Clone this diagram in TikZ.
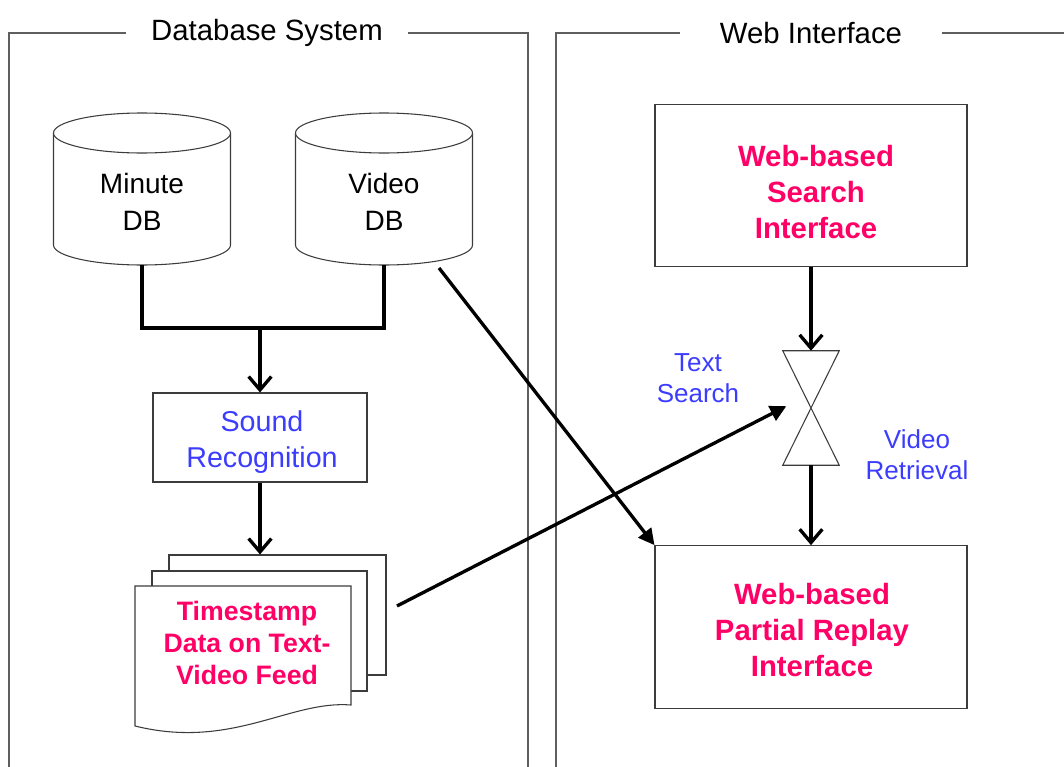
\documentclass[tikz,border=0pt]{standalone}
\usepackage{fontspec}
\setmainfont{Liberation Sans}
\usetikzlibrary{arrows.meta}
\definecolor{hot}{RGB}{255,0,102}
\definecolor{lbl}{RGB}{60,60,255}
\definecolor{framegray}{RGB}{95,95,95}
\definecolor{shapegray}{RGB}{60,60,60}
\begin{document}
\begin{tikzpicture}[x=0.75pt,y=-0.75pt,
  panel/.style={draw=framegray,line width=0.9pt},
  paneltitle/.style={fill=white,inner sep=0pt,font=\fontsize{22}{26}\selectfont,
    minimum height=36pt},
  shapeline/.style={draw=shapegray,line width=0.8pt},
  box/.style={shapeline,fill=white,inner sep=0pt},
  bigbox/.style={box,minimum width=234pt,minimum height=122pt},
  boxtext/.style={align=center,text=hot,font=\bfseries\fontsize{22}{27}\selectfont},
  dbtext/.style={align=center,font=\fontsize{21}{27.75}\selectfont},
  note/.style={align=center,text=lbl,font=\fontsize{19.5}{23.25}\selectfont},
  flow/.style={line width=2.5pt,-{Straight Barb[length=10pt,width=17pt]}},
  bus/.style={line width=2.5pt},
  pointer/.style={line width=2.5pt,-{Triangle[length=12pt,width=12pt]}},
]
\useasboundingbox (0,0) rectangle (1064,767);

% panel frames
\draw[panel] (9,790) -- (9,33) -- (528,33) -- (528,790);
\draw[panel] (556,790) -- (556,33) -- (1075,33);
\node[paneltitle,minimum width=212pt] (dbtitle) at (267,33) {Database System};
\node[paneltitle,minimum width=196pt] (webtitle) at (811,33) {Web Interface};

% database cylinders
\foreach \cx/\nm/\txt in {142/minute/Minute, 384/video/Video}{
  \draw[shapeline,fill=white] (\cx-88.5,133) -- (\cx-88.5,245)
    arc[start angle=180,end angle=360,x radius=66.375pt,y radius=15pt]
    -- (\cx+88.5,133);
  \draw[shapeline,fill=white] (\cx,133) ellipse[x radius=66.375pt,y radius=15pt];
  \node[dbtext] (\nm) at (\cx,201.5) {\txt\\DB};
}
\coordinate (minute-b) at (142,265);
\coordinate (video-b) at (384,265);
\coordinate (video-out) at (439,268);
\coordinate (join) at (260,328);

% sound recognition
\node[box,minimum width=160.5pt,minimum height=66.75pt] (sound) at (260,437.5) {};
\node[align=center,text=lbl,font=\fontsize{21.5}{27}\selectfont]
  (soundtext) at (262,442) {Sound\\Recognition};

% stacked documents
\node[shapeline,fill=white,minimum width=162.75pt,minimum height=90pt,inner sep=0pt]
  (page3) at (277.5,615) {};
\node[shapeline,fill=white,minimum width=161.25pt,minimum height=90pt,inner sep=0pt]
  (page2) at (259.5,631) {};
\draw[shapeline,fill=white] (135,586) -- (351,586) -- (351,705)
  .. controls (290,700) and (232,750) .. (135,726) -- cycle;
\node[align=center,text=hot,font=\bfseries\fontsize{20}{24}\selectfont]
  (doc) at (247,643) {Timestamp\\Data on Text-\\Video Feed};
\coordinate (doc-out) at (397,606);

% web interface side
\node[bigbox] (search) at (811,185.5) {};
\node[boxtext] (searchtext) at (816,192) {Web-based\\Search\\Interface};
\node[bigbox] (replay) at (811,627) {};
\node[boxtext] (replaytext) at (812,630.5) {Web-based\\Partial Replay\\Interface};
\node[minimum width=42pt,minimum height=85.5pt,inner sep=0pt] (valve) at (811,408) {};
\draw[shapeline,fill=white] (valve.north west) -- (valve.north east)
  -- (valve.south west) -- (valve.south east) -- cycle;
\node[note] (textsearch) at (698,378.5) {Text\\Search};
\node[note] (retrieval) at (917,454.5) {Video\\Retrieval};

% connectors
\draw[bus] (minute-b) |- (join) -| (video-b);
\draw[flow] (join) -- (sound.north);
\draw[flow] (sound.south) -- (sound.south |- page3.north);
\draw[flow] (search.south) -- (valve.north);
\draw[flow] (valve.south) -- (replay.north);
\draw[pointer] (video-out) -- (replay.north west);
\draw[pointer,shorten >=-3pt] (doc-out) -- (valve.west);
\end{tikzpicture}
\end{document}
